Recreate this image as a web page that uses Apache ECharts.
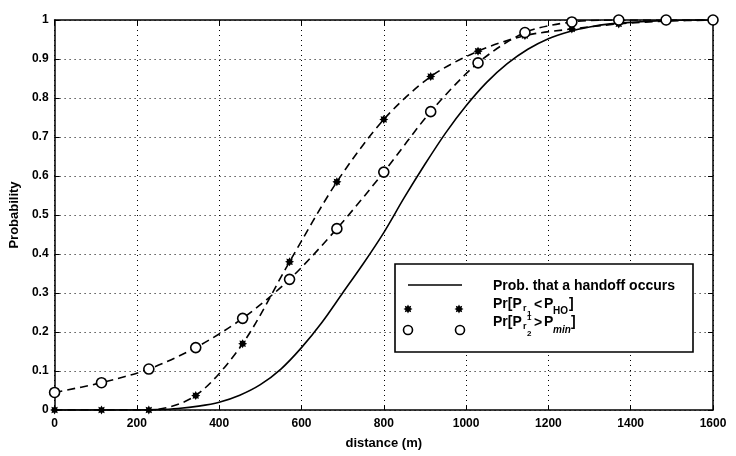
<!DOCTYPE html>
<html>
<head>
<meta charset="utf-8">
<script src="https://cdn.jsdelivr.net/npm/echarts@6/dist/echarts.min.js"></script>
<style>
  html, body { margin: 0; padding: 0; background: #fff; }
  #main { width: 736px; height: 456px; }
</style>
</head>
<body>
<div id="main"></div>
<script>
// solid curve: prob. that a handoff occurs
var solidDist = [0, 50, 100, 150, 200, 250, 300, 350, 400, 450, 500, 550, 600, 650, 700, 750, 800,
                 850, 900, 950, 1000, 1050, 1100, 1150, 1200, 1250, 1300, 1350, 1400, 1450, 1500, 1550, 1600];
var solidProb = [0, 0, 0, 0, 0, 0.001, 0.004, 0.01, 0.02, 0.038, 0.065, 0.105, 0.16, 0.225, 0.30, 0.375, 0.455,
                 0.545, 0.63, 0.71, 0.78, 0.84, 0.888, 0.925, 0.952, 0.97, 0.982, 0.99, 0.994, 0.997, 0.999, 1, 1];

// marker positions (m)
var markDist = [0, 114, 229, 343, 457, 571, 686, 800, 914, 1029, 1143, 1257, 1371, 1486, 1600];
// Pr[Pr1 < PHO]  (stars)
var starProb = [0, 0, 0, 0.037, 0.17, 0.38, 0.585, 0.745, 0.855, 0.92, 0.96, 0.977, 0.99, 0.997, 1.0];
// Pr[Pr2 > Pmin]  (circles)
var circProb = [0.045, 0.07, 0.105, 0.16, 0.235, 0.335, 0.465, 0.61, 0.765, 0.89, 0.968, 0.995, 1.0, 1.0, 1.0];

var xTicks = [0, 200, 400, 600, 800, 1000, 1200, 1400, 1600];
var yTicks = ['0', '0.1', '0.2', '0.3', '0.4', '0.5', '0.6', '0.7', '0.8', '0.9', '1'];

function zip(a, b) {
    var out = [];
    for (var i = 0; i < a.length; i++) out.push([a[i], b[i]]);
    return out;
}

// asterisk-like star: points around (cx,cy) with outer radius r
function starPts(cx, cy, r) {
    var pts = [];
    for (var i = 0; i < 16; i++) {
        var rr = (i % 2 === 0) ? r : r * 0.62;
        var a = Math.PI * i / 8 - Math.PI / 2;
        pts.push([cx + rr * Math.cos(a), cy + rr * Math.sin(a)]);
    }
    return pts;
}
var STAR = 'path://' + starPts(10, 10, 10).map(function (p, i) {
    return (i === 0 ? 'M' : 'L') + p[0].toFixed(2) + ',' + p[1].toFixed(2);
}).join('') + 'Z';

var FONT = '"Liberation Sans", Arial, sans-serif';
var lab = { color: '#000', fontFamily: FONT, fontWeight: 'bold', fontSize: 12 };
var nameLab = { color: '#000', fontFamily: FONT, fontWeight: 'bold', fontSize: 13 };

function t(x, y, str, size, extra) {
    var st = { x: x, y: y, text: str, fill: '#000', font: 'bold ' + size + 'px ' + FONT, verticalAlign: 'middle' };
    if (extra) st.font = extra + ' ' + st.font;
    return { type: 'text', z: 101, style: st };
}

var myChart = echarts.init(document.getElementById('main'));
var option = {
    backgroundColor: '#fff',
    animation: false,
    grid: { left: 52, right: 23, top: 20, bottom: 46 },
    xAxis: [
        {
            type: 'value', min: 0, max: 1600, interval: 200, position: 'bottom',
            name: 'distance (m)', nameLocation: 'middle', nameGap: 27,
            nameTextStyle: nameLab,
            axisLine: { lineStyle: { color: '#000', width: 1.5 } },
            axisTick: { inside: true, length: 5, lineStyle: { color: '#000' } },
            axisLabel: Object.assign({ margin: 8, formatter: function (v) { return xTicks.indexOf(v) >= 0 ? String(v) : ''; } }, lab),
            splitLine: { show: true, lineStyle: { color: '#000', type: [1, 4], width: 1 } }
        },
        {
            type: 'value', min: 0, max: 1600, interval: 200, position: 'top',
            axisLine: { onZero: false, lineStyle: { color: '#000', width: 1.5 } },
            axisTick: { inside: true, length: 5, lineStyle: { color: '#000' } },
            axisLabel: { show: false },
            splitLine: { show: false }
        }
    ],
    yAxis: [
        {
            type: 'value', min: 0, max: 1, interval: 0.1, position: 'left',
            name: 'Probability', nameLocation: 'middle', nameGap: 30,
            nameTextStyle: nameLab,
            axisLine: { show: true, lineStyle: { color: '#000', width: 1.5 } },
            axisTick: { show: true, inside: true, length: 5, lineStyle: { color: '#000' } },
            axisLabel: Object.assign({ margin: 6, formatter: function (v) { return yTicks[Math.round(v * 10)]; } }, lab),
            splitLine: { show: true, lineStyle: { color: '#000', type: [1, 4], width: 1 } }
        },
        {
            type: 'value', min: 0, max: 1, interval: 0.1, position: 'right',
            axisLine: { show: true, onZero: false, lineStyle: { color: '#000', width: 1.5 } },
            axisTick: { show: true, inside: true, length: 5, lineStyle: { color: '#000' } },
            axisLabel: { show: false },
            splitLine: { show: false }
        }
    ],
    series: [
        {
            name: 'Prob. that a handoff occurs',
            type: 'line',
            data: zip(solidDist, solidProb),
            smooth: 0.3,
            showSymbol: false,
            lineStyle: { color: '#000', width: 1.6 },
            z: 3
        },
        {
            name: 'Pr[Pr1 < PHO]',
            type: 'line',
            data: zip(markDist, starProb),
            smooth: 0.3,
            symbol: STAR,
            symbolSize: 9,
            itemStyle: { color: '#000' },
            lineStyle: { color: '#000', width: 1.6, type: [8, 5] },
            z: 4
        },
        {
            name: 'Pr[Pr2 > Pmin]',
            type: 'line',
            data: zip(markDist, circProb),
            smooth: 0.3,
            symbol: 'circle',
            symbolSize: 10,
            itemStyle: { color: '#fff', borderColor: '#000', borderWidth: 1.6 },
            lineStyle: { color: '#000', width: 1.6, type: [8, 5] },
            z: 5
        }
    ],
    graphic: [
        { type: 'rect', z: 100, shape: { x: 395, y: 264, width: 298, height: 88 },
          style: { fill: '#fff', stroke: '#000', lineWidth: 1.6 } },
        { type: 'line', z: 101, shape: { x1: 408, y1: 285, x2: 462, y2: 285 },
          style: { stroke: '#000', lineWidth: 1.6 } },
        { type: 'polygon', z: 101, shape: { points: starPts(408, 309, 4.5) }, style: { fill: '#000' } },
        { type: 'polygon', z: 101, shape: { points: starPts(459, 309, 4.5) }, style: { fill: '#000' } },
        { type: 'circle', z: 101, shape: { cx: 408, cy: 330, r: 4.5 }, style: { fill: '#fff', stroke: '#000', lineWidth: 1.6 } },
        { type: 'circle', z: 101, shape: { cx: 460, cy: 330, r: 4.5 }, style: { fill: '#fff', stroke: '#000', lineWidth: 1.6 } },
        // row 1
        t(493, 286, 'Prob. that a handoff occurs', 14),
        // row 2: Pr[P_r1 < P_HO]
        t(493, 304, 'Pr[P', 14),
        t(523, 309, 'r', 9),
        t(527, 314, '1', 8),
        t(534, 305, '<', 14),
        t(544, 304, 'P', 14),
        t(553, 311, 'HO', 10),
        t(569, 304, ']', 14),
        // row 3: Pr[P^1_r2 > P_min]
        t(493, 322, 'Pr[P', 14),
        t(527, 318, '1', 8),
        t(523, 327, 'r', 9),
        t(527, 334, '2', 8),
        t(534, 323, '>', 14),
        t(544, 322, 'P', 14),
        t(553, 330, 'min', 10, 'italic'),
        t(571, 322, ']', 14)
    ]
};
myChart.setOption(option);
</script>
</body>
</html>
